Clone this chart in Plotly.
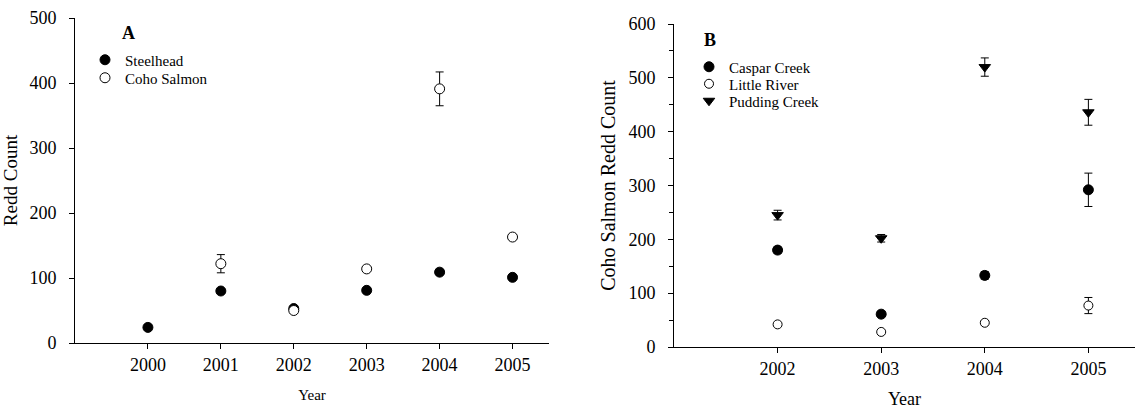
import plotly.graph_objects as go

# ---- Panel A data ----
years_a = [2000, 2001, 2002, 2003, 2004, 2005]
steelhead = [24, 80, 53, 81, 109, 101]
steelhead_err = [2, 3, 2, 3, 4, 3]
coho_years = [2001, 2002, 2003, 2004, 2005]
coho = [122, 50, 114, 391, 163]
coho_err = [14, 3, 3, 26, 4]

# ---- Panel B data ----
years_b = [2002, 2003, 2004, 2005]
caspar = [180, 61, 133, 292]
caspar_err = [6, 4, 7, 31]
little = [42, 28, 45, 77]
little_err = [3, 2, 3, 15]
pudding = [245, 202, 520, 436]
pudding_err = [9, 7, 17, 24]

FONT = "Liberation Serif, Times New Roman, serif"
BLACK = "black"

fig = go.Figure()

def err(vals):
    return dict(type="data", array=vals, visible=True, color=BLACK, thickness=1, width=4)

# Panel A
fig.add_trace(go.Scatter(x=years_a, y=steelhead, mode="markers", name="Steelhead",
                         error_y=err(steelhead_err),
                         marker=dict(symbol="circle", size=10, color=BLACK, line=dict(color=BLACK, width=1)),
                         xaxis="x", yaxis="y", legend="legend"))
fig.add_trace(go.Scatter(x=coho_years, y=coho, mode="markers", name="Coho Salmon",
                         error_y=err(coho_err),
                         marker=dict(symbol="circle", size=10, color="white", line=dict(color=BLACK, width=1)),
                         xaxis="x", yaxis="y", legend="legend2"))

# Panel B
fig.add_trace(go.Scatter(x=years_b, y=caspar, mode="markers", name="Caspar Creek",
                         error_y=err(caspar_err),
                         marker=dict(symbol="circle", size=10, color=BLACK, line=dict(color=BLACK, width=1)),
                         xaxis="x2", yaxis="y2", legend="legend3"))
fig.add_trace(go.Scatter(x=years_b, y=little, mode="markers", name="Little River",
                         error_y=err(little_err),
                         marker=dict(symbol="circle", size=9, color="white", line=dict(color=BLACK, width=1)),
                         xaxis="x2", yaxis="y2", legend="legend4"))
fig.add_trace(go.Scatter(x=years_b, y=pudding, mode="markers", name="Pudding Creek",
                         error_y=err(pudding_err),
                         marker=dict(symbol="triangle-down", size=10, color=BLACK, line=dict(color=BLACK, width=1)),
                         xaxis="x2", yaxis="y2", legend="legend5"))

W, H = 1135, 409

def px_x(p):
    return p / W

def px_y(p):
    return 1 - p / H

axis_common = dict(showline=True, linecolor=BLACK, linewidth=1, showgrid=False, zeroline=False,
                   ticks="outside", ticklen=5, tickcolor=BLACK, tickwidth=1,
                   tickfont=dict(family=FONT, size=18, color=BLACK), automargin=False)

def leg(xp, yp):
    return dict(x=px_x(xp), y=px_y(yp), xanchor="left", yanchor="middle",
                font=dict(family=FONT, size=15, color=BLACK), bgcolor="rgba(0,0,0,0)",
                borderwidth=0, tracegroupgap=0, itemclick=False, itemdoubleclick=False)

fig.update_layout(
    width=W, height=H,
    margin=dict(l=0, r=0, t=0, b=0),
    paper_bgcolor="white", plot_bgcolor="white",
    font=dict(family=FONT, color=BLACK),
    xaxis=dict(domain=[px_x(75), px_x(549)], range=[1999.0, 2005.5], anchor="y",
               tickvals=years_a, ticktext=[str(y) for y in years_a],
               title=dict(text="Year", font=dict(family=FONT, size=15, color=BLACK), standoff=15),
               **axis_common),
    yaxis=dict(domain=[px_y(343), px_y(18)], range=[0, 500], anchor="x",
               tickvals=[0, 100, 200, 300, 400, 500], ticklabelstandoff=9,
               title=dict(text="Redd Count", font=dict(family=FONT, size=19, color=BLACK), standoff=9),
               **axis_common),
    xaxis2=dict(domain=[px_x(674), 1.0], range=[2001.0, 2005.45], anchor="y2",
                tickvals=years_b, ticktext=[str(y) for y in years_b],
                title=dict(text="Year", font=dict(family=FONT, size=18, color=BLACK), standoff=14),
                **axis_common),
    yaxis2=dict(domain=[px_y(347), px_y(24)], range=[0, 600], anchor="x2",
                tickvals=[0, 100, 200, 300, 400, 500, 600], ticklabelstandoff=9,
                minor=dict(tickvals=[50, 150, 250, 350, 450, 550], ticks="outside", ticklen=4,
                           tickcolor=BLACK, tickwidth=1),
                title=dict(text="Coho Salmon Redd Count", font=dict(family=FONT, size=20, color=BLACK), standoff=7),
                **axis_common),
    yaxis3=dict(overlaying="y2", anchor="x2", range=[0, 600], showline=False, showgrid=False,
                zeroline=False, showticklabels=False, ticks="inside", ticklen=4, tickcolor=BLACK,
                tickwidth=1, tickvals=[50, 150, 250, 350, 450, 550], automargin=False),
    legend=leg(85, 60),
    legend2=leg(85, 78),
    legend3=leg(689, 67),
    legend4=leg(689, 84),
    legend5=leg(689, 101),
    annotations=[
        dict(text="<b>A</b>", x=px_x(120), y=px_y(33), xref="paper", yref="paper",
             xanchor="left", yanchor="middle", showarrow=False,
             font=dict(family=FONT, size=18, color=BLACK)),
        dict(text="<b>B</b>", x=px_x(702), y=px_y(40), xref="paper", yref="paper",
             xanchor="left", yanchor="middle", showarrow=False,
             font=dict(family=FONT, size=18, color=BLACK)),
    ],
    showlegend=True,
)

fig.write_html("out.html")
